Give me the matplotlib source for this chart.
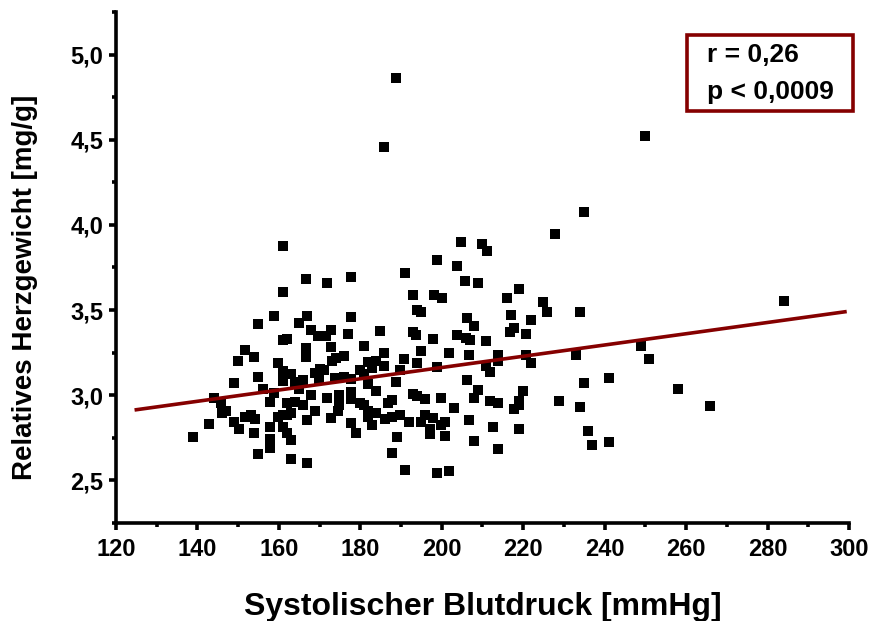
import numpy as np
import matplotlib
matplotlib.use('Agg')
import matplotlib.pyplot as plt
from matplotlib.patches import Rectangle
from matplotlib.ticker import MultipleLocator, FuncFormatter

plt.rcParams['font.family'] = ['Liberation Sans', 'DejaVu Sans']
plt.rcParams['font.weight'] = 'bold'

# Systolischer Blutdruck [mmHg] / Relatives Herzgewicht [mg/g]
blutdruck = [
    188.8, 185.8, 249.9, 234.9, 227.8, 161.0, 204.8, 209.9, 211.0, 198.9,
    203.8, 191.0, 166.7, 177.8, 171.9, 205.8, 208.9, 161.0, 192.9, 198.0,
    200.0, 218.9, 215.9, 224.9, 194.0, 194.8, 158.9, 166.8, 177.8, 154.8,
    225.9, 234.0, 217.0, 221.9, 206.2, 208.0, 217.8, 164.9, 167.8, 172.9,
    184.8, 192.9, 193.6, 169.6, 171.6, 177.0, 161.0, 162.0, 197.8, 203.8,
    206.0, 207.0, 210.8, 220.8, 216.7, 151.8, 150.0, 153.8, 166.7, 172.9,
    180.8, 185.8, 194.8, 201.8, 206.7, 213.8, 232.9, 220.8, 249.0, 251.0,
    166.7, 159.9, 173.0, 175.9, 174.1, 190.8, 193.8, 198.9, 221.9, 213.8,
    210.8, 211.8, 181.9, 183.8, 185.8, 179.9, 182.9, 161.0, 162.9, 170.0,
    171.0, 168.9, 189.7, 180.8, 154.8, 149.0, 161.0, 164.0, 166.0, 169.9,
    173.7, 175.9, 177.8, 181.9, 188.8, 206.2, 234.9, 241.0, 257.9, 265.9,
    284.0, 156.2, 158.8, 164.9, 167.9, 171.9, 174.8, 177.8, 177.8, 183.8,
    192.9, 193.8, 195.9, 199.9, 208.9, 207.8, 219.9, 228.8, 218.9, 211.8,
    213.8, 202.9, 234.0, 144.0, 145.9, 146.0, 147.0, 151.8, 153.2, 154.1,
    149.0, 150.1, 142.9, 138.9, 154.0, 154.9, 157.9, 157.9, 157.9, 157.9,
    159.9, 161.0, 161.0, 162.0, 162.0, 162.0, 162.9, 162.9, 162.9, 164.0,
    166.0, 166.8, 166.8, 168.9, 172.9, 174.5, 174.8, 177.8, 178.9, 180.8,
    181.9, 181.9, 182.9, 183.8, 186.0, 186.8, 187.8, 187.8, 189.7, 188.9,
    187.8, 191.9, 191.0, 195.0, 195.9, 197.0, 197.0, 197.8, 199.9, 200.8,
    200.8, 198.9, 201.8, 206.7, 207.8, 212.7, 213.8, 217.8, 218.9, 218.9,
    235.9, 237.0, 241.0, 179.9,
]
herzgewicht = [
    4.865, 4.456, 4.524, 4.075, 3.945, 3.878, 3.900, 3.887, 3.845, 3.794,
    3.757, 3.717, 3.685, 3.697, 3.661, 3.673, 3.660, 3.606, 3.590, 3.590,
    3.569, 3.622, 3.571, 3.548, 3.499, 3.490, 3.467, 3.467, 3.460, 3.418,
    3.490, 3.490, 3.474, 3.440, 3.453, 3.404, 3.392, 3.425, 3.385, 3.385,
    3.378, 3.374, 3.355, 3.350, 3.350, 3.357, 3.327, 3.332, 3.332, 3.355,
    3.339, 3.327, 3.320, 3.357, 3.374, 3.267, 3.204, 3.225, 3.278, 3.285,
    3.288, 3.248, 3.262, 3.246, 3.239, 3.239, 3.239, 3.234, 3.292, 3.211,
    3.222, 3.188, 3.199, 3.232, 3.218, 3.211, 3.192, 3.164, 3.192, 3.201,
    3.169, 3.139, 3.195, 3.204, 3.171, 3.148, 3.158, 3.141, 3.125, 3.153,
    3.146, 3.130, 3.146, 3.125, 3.106, 3.069, 3.083, 3.076, 3.090, 3.095,
    3.102, 3.106, 3.095, 3.067, 3.079, 3.090, 3.069, 3.104, 3.034, 2.939,
    3.555, 3.037, 3.014, 3.037, 3.002, 2.983, 3.002, 3.018, 2.979, 3.025,
    3.009, 2.995, 2.979, 2.983, 3.030, 2.983, 3.023, 2.967, 2.967, 2.967,
    2.955, 2.925, 2.932, 2.983, 2.955, 2.897, 2.909, 2.874, 2.886, 2.858,
    2.844, 2.804, 2.832, 2.756, 2.776, 2.653, 2.960, 2.816, 2.746, 2.688,
    2.874, 2.886, 2.811, 2.955, 2.886, 2.781, 2.897, 2.739, 2.626, 2.960,
    2.944, 2.856, 2.602, 2.909, 2.867, 2.909, 2.944, 2.839, 2.776, 2.944,
    2.909, 2.874, 2.828, 2.897, 2.858, 2.955, 2.974, 2.874, 2.886, 2.753,
    2.660, 2.844, 2.560, 2.844, 2.886, 2.804, 2.770, 2.867, 2.828, 2.844,
    2.763, 2.542, 2.558, 2.856, 2.730, 2.814, 2.686, 2.920, 2.944, 2.800,
    2.793, 2.707, 2.723, 2.955,
]

# regression line end points
fit_x = [125, 299]
fit_y = [2.915, 3.49]

r_text = 'r = 0,26'
p_text = 'p < 0,0009'

fig = plt.figure(figsize=(8.74, 6.21), dpi=100)
ax = fig.add_axes([0.1327, 0.1578, 0.8387, 0.8229])

ax.plot(blutdruck, herzgewicht, 's', color='black', markersize=6.5, markeredgewidth=0, zorder=3)
ax.plot(fit_x, fit_y, color='#850000', linewidth=2.6, zorder=4)

ax.set_xlim(120, 300)
ax.set_ylim(2.25, 5.25)
ax.xaxis.set_major_locator(MultipleLocator(20))
ax.xaxis.set_minor_locator(MultipleLocator(10))
ax.yaxis.set_major_locator(MultipleLocator(0.5))
ax.yaxis.set_minor_locator(MultipleLocator(0.25))
ax.yaxis.set_major_formatter(FuncFormatter(lambda v, p: f'{v:.1f}'.replace('.', ',')))

for s in ['top', 'right']:
    ax.spines[s].set_visible(False)
for s in ['left', 'bottom']:
    ax.spines[s].set_linewidth(2.6)

ax.tick_params(which='major', direction='out', length=5, width=2.6, labelsize=17, pad=4)
ax.tick_params(axis='x', which='major', pad=6)
ax.tick_params(which='minor', direction='out', length=3, width=2.6)
for lbl in ax.get_xticklabels() + ax.get_yticklabels():
    lbl.set_fontweight('bold')

ax.set_xlabel('Systolischer Blutdruck [mmHg]', fontsize=23, fontweight='bold', labelpad=22)
ax.set_ylabel('Relatives Herzgewicht [mg/g]', fontsize=20, fontweight='bold')
ax.yaxis.set_label_coords(-0.107, 0.462)

ax.add_patch(Rectangle((0.779, 0.806), 0.226, 0.149, transform=ax.transAxes,
                       fill=False, edgecolor='#850000', linewidth=2.6, clip_on=False, zorder=5))
ax.text(0.806, 0.916, r_text, transform=ax.transAxes, fontsize=19, fontweight='bold', va='center', ha='left')
ax.text(0.806, 0.843, p_text, transform=ax.transAxes, fontsize=19, fontweight='bold', va='center', ha='left')

fig.savefig('out.png', dpi=100)
